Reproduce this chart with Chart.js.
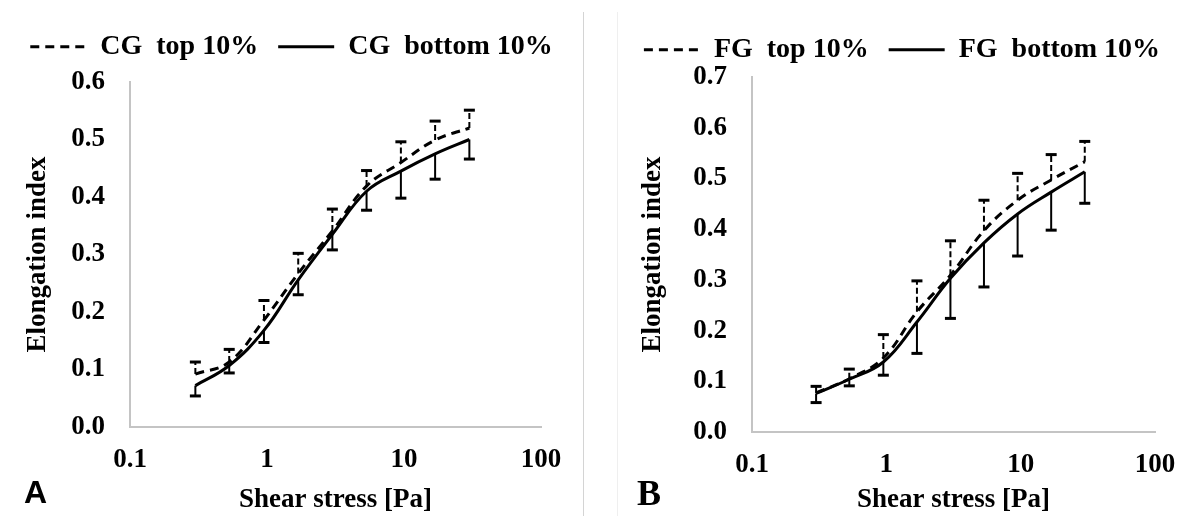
<!DOCTYPE html>
<html>
<head>
<meta charset="utf-8">
<script src="https://cdn.jsdelivr.net/npm/chart.js@4.4.0/dist/chart.umd.min.js"></script>
<style>
  body { margin: 0; background: #fff; }
  #wrap { position: relative; width: 1187px; height: 516px; overflow: hidden; background: #fff; }
  .painel { position: absolute; top: 0; height: 516px; }
  #painelA { left: 0; width: 583px; }
  #painelB { left: 617px; width: 570px; }
  .borda { position: absolute; top: 12px; bottom: 0; width: 1px; }
  .letra { position: absolute; color: #000; }
</style>
</head>
<body>
<div id="wrap">
  <div class="borda" style="left:583px;background:#d4d4d4"></div>
  <div class="borda" style="left:617px;background:#efefef"></div>
  <div class="painel" id="painelA"><canvas id="chartA" width="583" height="516"></canvas></div>
  <div class="painel" id="painelB"><canvas id="chartB" width="570" height="516"></canvas></div>
  <div class="letra" style="left:24px;top:474px;font:bold 32px 'Liberation Sans', Arial, sans-serif">A</div>
  <div class="letra" style="left:637px;top:472px;font:bold 36px 'Liberation Serif', 'Times New Roman', serif">B</div>
</div>
<script>
// shear stress steps (Pa)
const shearStress = [0.3, 0.53, 0.95, 1.69, 3, 5.33, 9.49, 16.87, 30];
const xTicks = [0.1, 1, 10, 100];

// panel A - CG
const cgTop = [0.092, 0.113, 0.186, 0.267, 0.341, 0.419, 0.46, 0.499, 0.52];
const cgTopErr = [0.021, 0.022, 0.034, 0.035, 0.038, 0.027, 0.036, 0.033, 0.031];
const cgBottom = [0.072, 0.107, 0.168, 0.256, 0.335, 0.41, 0.445, 0.475, 0.5];
const cgBottomErr = [0.018, 0.013, 0.021, 0.026, 0.027, 0.033, 0.047, 0.044, 0.034];

// panel B - FG
const fgTop = [0.077, 0.105, 0.146, 0.237, 0.309, 0.397, 0.457, 0.497, 0.533];
const fgTopErr = [0.013, 0.019, 0.046, 0.061, 0.068, 0.06, 0.053, 0.05, 0.04];
const fgBottom = [0.076, 0.104, 0.138, 0.217, 0.303, 0.373, 0.43, 0.473, 0.513];
const fgBottomErr = [0.018, 0.013, 0.026, 0.062, 0.079, 0.087, 0.083, 0.075, 0.062];

const serif = "'Liberation Serif', 'Times New Roman', serif";

function pontos(valores) {
  return shearStress.map(function (s, i) { return { x: s, y: valores[i] }; });
}

// error bars: top group goes up (dashed stem), bottom group goes down
const errorBars = {
  id: 'errorBars',
  afterDatasetsDraw(chart) {
    const ctx = chart.ctx;
    const xs = chart.scales.x;
    const ys = chart.scales.y;
    chart.data.datasets.forEach(function (ds) {
      if (!ds.erro) return;
      ctx.save();
      ctx.strokeStyle = '#000';
      ds.data.forEach(function (p, i) {
        const px = xs.getPixelForValue(p.x);
        const y0 = ys.getPixelForValue(p.y);
        const y1 = ys.getPixelForValue(p.y + ds.sentido * ds.erro[i]);
        ctx.lineWidth = 2;
        ctx.setLineDash(ds.borderDash ? [6, 3] : []);
        ctx.beginPath();
        ctx.moveTo(px, y0);
        ctx.lineTo(px, y1);
        ctx.stroke();
        ctx.setLineDash([]);
        ctx.lineWidth = 3;
        ctx.beginPath();
        ctx.moveTo(px - 5.5, y1);
        ctx.lineTo(px + 5.5, y1);
        ctx.stroke();
      });
      ctx.restore();
    });
  }
};

// legend keeps the dash of each line
function legendaItens(chart) {
  const itens = Chart.defaults.plugins.legend.labels.generateLabels(chart);
  itens.forEach(function (it) {
    it.lineDash = chart.data.datasets[it.datasetIndex].borderDash || [];
    it.lineWidth = 3;
    it.strokeStyle = '#000';
  });
  return itens;
}

function criarGrafico(id, grupo, top, topErr, bottom, bottomErr, cfg) {
  return new Chart(document.getElementById(id), {
    type: 'line',
    data: {
      datasets: [{
        label: grupo + '  top 10%',
        data: pontos(top),
        erro: topErr,
        sentido: 1,
        borderColor: '#000',
        backgroundColor: '#000',
        borderWidth: 3,
        borderDash: [9, 6],
        pointRadius: 0,
        tension: 0.4,
        fill: false
      }, {
        label: grupo + '  bottom 10%',
        data: pontos(bottom),
        erro: bottomErr,
        sentido: -1,
        borderColor: '#000',
        backgroundColor: '#000',
        borderWidth: 3,
        pointRadius: 0,
        tension: 0.4,
        fill: false
      }]
    },
    options: {
      responsive: false,
      animation: false,
      layout: { padding: { top: 0, left: 0, right: 0, bottom: 0 } },
      plugins: {
        tooltip: { enabled: false },
        // empty title under the legend, only as a gap before the plot
        title: {
          display: true,
          text: '',
          weight: 500,
          font: { size: 1 },
          padding: { top: cfg.gap, bottom: 0 }
        },
        legend: {
          position: 'top',
          labels: {
            usePointStyle: true,
            pointStyle: 'line',
            pointStyleWidth: 56,
            padding: 20,
            color: '#000',
            generateLabels: legendaItens,
            font: { family: serif, size: 28, weight: 'bold' }
          }
        }
      },
      scales: {
        x: {
          type: 'logarithmic',
          min: 0.1,
          max: 100,
          afterBuildTicks: function (s) { s.ticks = xTicks.map(function (v) { return { value: v }; }); },
          afterFit: function (s) { s.height = 516 - cfg.bottom; s.paddingRight = cfg.padRight; },
          grid: { display: false, drawTicks: false },
          border: { display: true, color: '#c4c4c4', width: 2 },
          ticks: {
            padding: 17,
            color: '#000',
            maxRotation: 0,
            autoSkip: false,
            font: { family: serif, size: 27, weight: 'bold' },
            callback: function (v) { return String(v); }
          },
          title: {
            display: true,
            text: 'Shear stress [Pa]',
            color: '#000',
            padding: { top: 0, bottom: 0 },
            font: { family: serif, size: 27, weight: 'bold' }
          }
        },
        y: {
          min: 0,
          max: cfg.yMax,
          afterFit: function (s) { s.width = cfg.yWidth; s.paddingTop = cfg.top; },
          grid: { display: false, drawTicks: false },
          border: { display: true, color: '#c4c4c4', width: 2 },
          ticks: {
            stepSize: 0.1,
            padding: 25,
            color: '#000',
            font: { family: serif, size: 27, weight: 'bold' },
            callback: function (v) { return v.toFixed(1); }
          },
          title: {
            display: true,
            text: 'Elongation index',
            color: '#000',
            padding: { top: cfg.titlePad, bottom: 0 },
            font: { family: serif, size: 27, weight: 'bold' }
          }
        }
      }
    },
    plugins: [errorBars]
  });
}

criarGrafico('chartA', 'CG', cgTop, cgTopErr, cgBottom, cgBottomErr,
  { yMax: 0.6, gap: 10, top: 82, bottom: 427, yWidth: 130, padRight: 42, titlePad: 22 });
criarGrafico('chartB', 'FG', fgTop, fgTopErr, fgBottom, fgBottomErr,
  { yMax: 0.7, gap: 2, top: 77, bottom: 432, yWidth: 135, padRight: 32, titlePad: 20 });
</script>
</body>
</html>
